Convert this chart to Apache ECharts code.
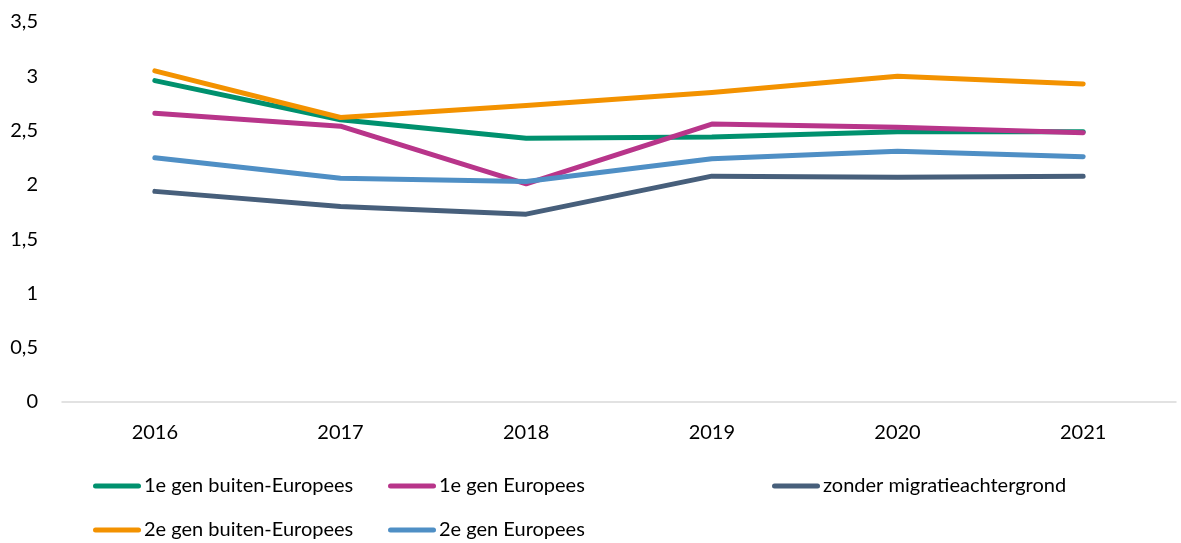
<!DOCTYPE html>
<html><head><meta charset="utf-8">
<script src="https://cdn.jsdelivr.net/npm/echarts@6/dist/echarts.min.js"></script>
<style>html,body{margin:0;padding:0;background:#fff}#c{width:1181px;height:543px}</style>
</head><body><div id="c"></div>
<script>
const years = ['2016','2017','2018','2019','2020','2021'];
const gen1NonEu = [2.96, 2.60, 2.43, 2.44, 2.49, 2.49];
const gen1Eu = [2.66, 2.54, 2.01, 2.56, 2.53, 2.48];
const noMigration = [1.94, 1.80, 1.73, 2.08, 2.07, 2.08];
const gen2NonEu = [3.05, 2.62, 2.73, 2.85, 3.00, 2.93];
const gen2Eu = [2.25, 2.06, 2.03, 2.24, 2.31, 2.26];
const names = ['1e gen buiten-Europees','1e gen Europees','zonder migratieachtergrond','2e gen buiten-Europees','2e gen Europees'];
const colors = ['#00916e','#b8358a','#475f7b','#f39200','#4f8fc5'];
const values = [gen1NonEu, gen1Eu, noMigration, gen2NonEu, gen2Eu];
const font = 'Lato, "Open Sans", sans-serif';
const icon = 'path://M2.5,0 L45.5,0 A2.5,2.5 0 0 1 45.5,5 L2.5,5 A2.5,2.5 0 0 1 2.5,0 Z';
function leg(left, data){
  return {left:left, top:476, orient:'vertical', itemGap:24, itemWidth:48, itemHeight:5,
    icon:icon, data:data, selectedMode:false, padding:0,
    textStyle:{fontFamily:font, fontSize:20, color:'#000', padding:[0,0,0,-2]}};
}
const chart = echarts.init(document.getElementById('c'));
chart.setOption({
  animation:false,
  grid:{left:62, right:5, top:22, bottom:141},
  legend:[leg(93,[names[0],names[3]]), leg(388,[names[1],names[4]]), leg(772,[names[2]])],
  xAxis:{type:'category', data:years, boundaryGap:true,
    axisLine:{lineStyle:{color:'#d9d9d9', width:1.5}}, axisTick:{show:false},
    axisLabel:{fontFamily:font, fontSize:20, color:'#000', margin:21}},
  yAxis:{type:'value', min:0, max:3.5, interval:0.5,
    splitLine:{show:false}, axisLine:{show:false}, axisTick:{show:false},
    axisLabel:{fontFamily:font, fontSize:20, color:'#000', margin:24,
      formatter:v=>String(v).replace('.',',')}},
  series: names.map((n,i)=>({name:n, type:'line', data:values[i], symbol:'none',
    lineStyle:{color:colors[i], width:5, cap:'round', join:'round'}, itemStyle:{color:colors[i]}}))
});
</script></body></html>
